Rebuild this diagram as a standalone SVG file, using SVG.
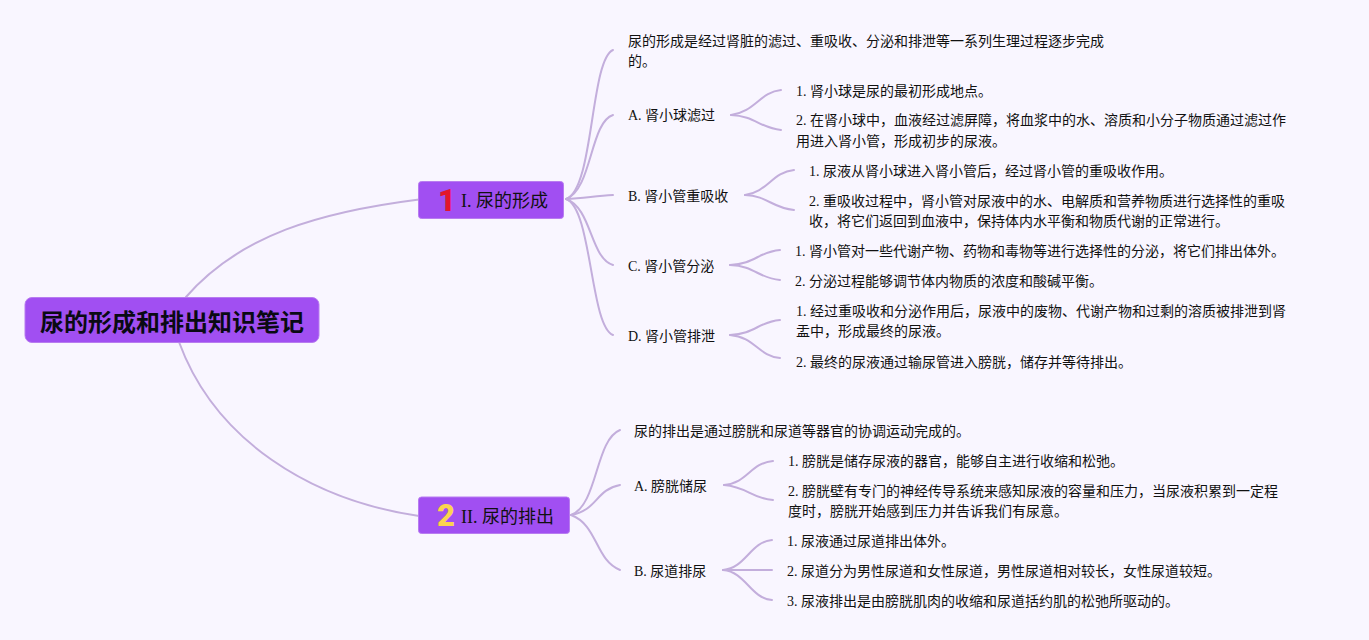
<svg xmlns="http://www.w3.org/2000/svg" width="1369" height="640" viewBox="0 0 1369 640">
<style>
.t{font-family:"Liberation Serif","Noto Sans CJK SC",serif;font-size:14px;fill:#111}
.n{font-size:18px}
.r{font-family:"Noto Sans CJK SC","Liberation Sans",sans-serif;font-size:24px;font-weight:700;fill:#0a0a14}
.i{font-family:"Roboto","Liberation Sans",sans-serif;font-size:31px;font-weight:900}
.box{fill:#a14ff2;stroke:#b87cf0;stroke-width:1}
#connectors path{fill:none;stroke:#c3aedc;stroke-width:2;stroke-linecap:round}
</style>
<rect width="1369" height="640" fill="#f9f6ff"/>
<g id="connectors">
<path d="M186 297C240 235 320 212 419 199.500"/>
<path d="M179 342C215 440 310 500 419 516"/>
<path d="M566 199C594 190 590 60 613 50"/>
<path d="M566 199C592 190 590 122 613 115"/>
<path d="M566 199C585 198 595 196 613 195"/>
<path d="M566 199C592 208 590 258 613 265"/>
<path d="M566 199C592 208 590 326 613 335"/>
<path d="M731 115C755 112 760 92 781 90"/>
<path d="M731 115C755 116 760 128 781 130"/>
<path d="M745 195C768 192 772 172 794 170"/>
<path d="M745 195C768 196 772 208 794 210"/>
<path d="M730 265C755 264 758 252 780 250"/>
<path d="M730 265C755 266 758 278 780 280"/>
<path d="M730 335C755 334 758 322 780 320"/>
<path d="M730 335C755 337 758 356 780 358"/>
<path d="M571 515C598 505 595 440 620 430"/>
<path d="M571 515C598 510 595 490 620 485"/>
<path d="M571 515C598 525 595 560 620 570"/>
<path d="M724 485C748 483 750 463 773 461"/>
<path d="M724 485C748 487 750 498 773 500"/>
<path d="M723 570C746 568 750 542 772 540"/>
<path d="M723 570C746 570 750 570 772 570"/>
<path d="M723 570C746 572 750 598 772 600"/>
</g>
<g id="root"><rect class="box" x="25" y="297.500" width="294" height="45" rx="7"/><text class="r" x="40" y="331">尿的形成和排出知识笔记</text></g>
<g id="n1"><rect class="box" x="418.500" y="181.500" width="145" height="37" rx="3"/><text class="i" x="438" y="211" fill="#e3162c">1</text><text class="t n" x="461" y="207">I. 尿的形成</text></g>
<g id="n2"><rect class="box" x="418.500" y="497" width="151" height="36.500" rx="3"/><text class="i" x="437" y="526" fill="#fbd44f">2</text><text class="t n" x="461" y="523">II. 尿的排出</text></g>
<g id="a0"><text class="t" x="628" y="46">尿的形成是经过肾脏的滤过、重吸收、分泌和排泄等一系列生理过程逐步完成</text><text class="t" x="628" y="66">的。</text></g>
<g id="a"><text class="t" x="628" y="120">A. 肾小球滤过</text></g>
<g id="a1"><text class="t" x="796" y="96">1. 肾小球是尿的最初形成地点。</text></g>
<g id="a2"><text class="t" x="796" y="125">2. 在肾小球中，血液经过滤屏障，将血浆中的水、溶质和小分子物质通过滤过作</text><text class="t" x="796" y="146">用进入肾小管，形成初步的尿液。</text></g>
<g id="b"><text class="t" x="628" y="201">B. 肾小管重吸收</text></g>
<g id="b1"><text class="t" x="809" y="176">1. 尿液从肾小球进入肾小管后，经过肾小管的重吸收作用。</text></g>
<g id="b2"><text class="t" x="809" y="206">2. 重吸收过程中，肾小管对尿液中的水、电解质和营养物质进行选择性的重吸</text><text class="t" x="809" y="226">收，将它们返回到血液中，保持体内水平衡和物质代谢的正常进行。</text></g>
<g id="c"><text class="t" x="628" y="271">C. 肾小管分泌</text></g>
<g id="c1"><text class="t" x="795" y="256">1. 肾小管对一些代谢产物、药物和毒物等进行选择性的分泌，将它们排出体外。</text></g>
<g id="c2"><text class="t" x="795" y="286">2. 分泌过程能够调节体内物质的浓度和酸碱平衡。</text></g>
<g id="d"><text class="t" x="628" y="341">D. 肾小管排泄</text></g>
<g id="d1"><text class="t" x="796" y="316">1. 经过重吸收和分泌作用后，尿液中的废物、代谢产物和过剩的溶质被排泄到肾</text><text class="t" x="796" y="336">盂中，形成最终的尿液。</text></g>
<g id="d2"><text class="t" x="796" y="367">2. 最终的尿液通过输尿管进入膀胱，储存并等待排出。</text></g>
<g id="e0"><text class="t" x="634" y="436">尿的排出是通过膀胱和尿道等器官的协调运动完成的。</text></g>
<g id="e"><text class="t" x="634" y="491">A. 膀胱储尿</text></g>
<g id="e1"><text class="t" x="788" y="466">1. 膀胱是储存尿液的器官，能够自主进行收缩和松弛。</text></g>
<g id="e2"><text class="t" x="788" y="496">2. 膀胱壁有专门的神经传导系统来感知尿液的容量和压力，当尿液积累到一定程</text><text class="t" x="788" y="516">度时，膀胱开始感到压力并告诉我们有尿意。</text></g>
<g id="f"><text class="t" x="634" y="576">B. 尿道排尿</text></g>
<g id="f1"><text class="t" x="787" y="546">1. 尿液通过尿道排出体外。</text></g>
<g id="f2"><text class="t" x="787" y="576">2. 尿道分为男性尿道和女性尿道，男性尿道相对较长，女性尿道较短。</text></g>
<g id="f3"><text class="t" x="787" y="606">3. 尿液排出是由膀胱肌肉的收缩和尿道括约肌的松弛所驱动的。</text></g>
</svg>
